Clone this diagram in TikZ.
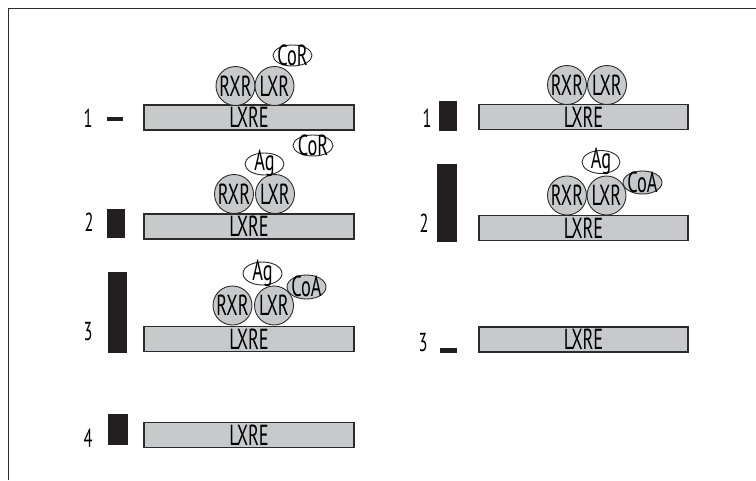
\documentclass[tikz,border=0pt]{standalone}
\usepackage{fontspec}
\setmainfont{PT Sans}[FakeStretch=0.63]
\usetikzlibrary{shapes.geometric}
\definecolor{boxgray}{HTML}{C8C9CB}
\definecolor{barblack}{HTML}{231F20}
\definecolor{edge}{HTML}{2B2B2B}
\tikzset{
  bigtext/.style={font=\fontsize{29}{29}\selectfont},
  lxre/.style={draw=edge, line width=1.2pt, fill=boxgray, minimum width=210pt, minimum height=25pt, inner sep=0pt, bigtext},
  prot/.style={circle, draw=edge, line width=0.9pt, fill=boxgray, minimum size=39pt, inner sep=0pt, bigtext},
  cofac/.style={ellipse, draw=edge, line width=0.9pt, fill=white, inner sep=0pt, label={[bigtext, inner sep=0pt, yshift=0.5pt]center:#1}},
  gcofac/.style={cofac=#1, fill=boxgray},
  bar/.style={fill=barblack, draw=none},
  num/.style={font=\fontsize{26}{26}\selectfont, inner sep=0pt},
  frame/.style={draw=edge, line width=1pt}
}
\begin{document}
\begin{tikzpicture}[x=1pt,y=-1pt]
\useasboundingbox (0,0) rectangle (756,480);
\draw[frame] (8,480) -- (8,8) -- (756,8);

% ---------- left column ----------
% row 1
\node[lxre] (l1) at (249,117.5) {LXRE};
\node[prot] (l1r) at (235.5,86) {RXR};
\node[prot] (l1l) at (274.5,86) {LXR};
\node[cofac=CoR, minimum width=39pt, minimum height=21pt] (l1c) at (292.5,55.5) {};
\node[num] (n1) at (88,118) {1};
\fill[bar] (107,117) rectangle (123,121);
% row 2
\node[lxre] (l2) at (249,226.5) {LXRE};
\node[prot] (l2r) at (234,194) {RXR};
\node[prot] (l2l) at (275,194) {LXR};
\node[cofac=Ag, minimum width=39pt, minimum height=22pt] (l2a) at (264.5,164) {};
\node[cofac=CoR, minimum width=40pt, minimum height=21pt] (l2c) at (313,145.5) {};
\node[num] (n2) at (89,222) {2};
\fill[bar] (107,209) rectangle (125,238);
% row 3
\node[lxre] (l3) at (249,339) {LXRE};
\node[prot] (l3r) at (232.5,305.5) {RXR};
\node[prot] (l3l) at (274,305.5) {LXR};
\node[cofac=Ag, minimum width=39pt, minimum height=23pt] (l3a) at (262.5,273.5) {};
\node[gcofac=CoA, minimum width=39pt, minimum height=24pt] (l3c) at (306.5,287) {};
\node[num] (n3) at (88,332) {3};
\fill[bar] (108,272) rectangle (127,353);
% row 4
\node[lxre] (l4) at (249,435) {LXRE};
\node[num] (n4) at (88,438) {4};
\fill[bar] (108,414) rectangle (128,445);

% ---------- right column ----------
% row 1
\node[lxre, minimum width=209pt] (r1) at (583.5,117) {LXRE};
\node[prot] (r1r) at (567,85) {RXR};
\node[prot] (r1l) at (607,85) {LXR};
\node[num] (m1) at (427,118) {1};
\fill[bar] (439,101) rectangle (457,131);
% row 2
\node[lxre, minimum width=209pt] (r2) at (583.5,228) {LXRE};
\node[prot] (r2r) at (567,195.5) {RXR};
\node[prot] (r2l) at (606.5,195.5) {LXR};
\node[cofac=Ag, minimum width=38pt, minimum height=23pt] (r2a) at (601,162) {};
\node[gcofac=CoA, minimum width=39pt, minimum height=23pt] (r2c) at (642.5,182.5) {};
\node[num] (m2) at (424,223) {2};
\fill[bar] (437,164) rectangle (457,242);
% row 3
\node[lxre, minimum width=209pt] (r3) at (583.5,339.5) {LXRE};
\node[num] (m3) at (423,343) {3};
\fill[bar] (440,348) rectangle (457,353);
\end{tikzpicture}
\end{document}
